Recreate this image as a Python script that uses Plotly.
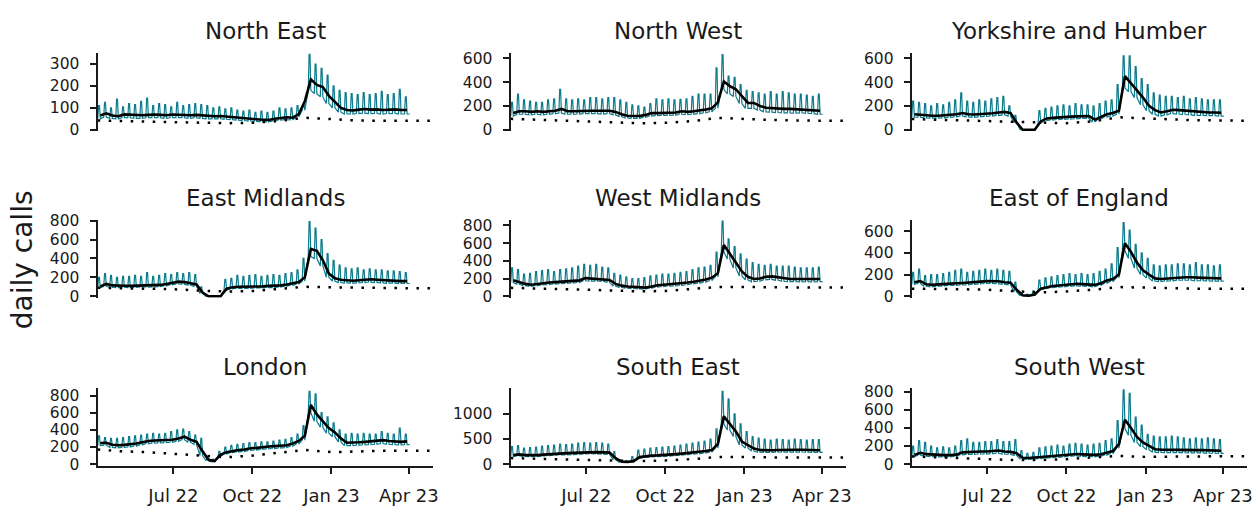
import pandas as pd
import plotly.graph_objects as go

W, H = 1260, 506

regions = ["North East", "North West", "Yorkshire and Humber",
           "East Midlands", "West Midlands", "East of England",
           "London", "South East", "South West"]

week_start = pd.date_range("2022-04-04", periods=52, freq="7D")
baseline_dates = pd.to_datetime([
    "2022-04-04", "2022-05-01", "2022-06-01", "2022-07-01", "2022-08-01",
    "2022-09-01", "2022-10-01", "2022-11-01", "2022-12-01", "2023-01-01",
    "2023-02-01", "2023-03-01", "2023-04-01", "2023-04-28"])

x_tick_vals = ["2022-07-01", "2022-10-01", "2023-01-01", "2023-04-01"]
x_tick_text = ["Jul 22", "Oct 22", "Jan 23", "Apr 23"]

# ---------------- North East ----------------
ne_smooth = [65, 75, 65, 62, 70, 68, 65, 66, 68, 70, 68, 66, 70,
             68, 67, 66, 68, 65, 63, 62, 63, 60, 58, 55, 52, 50,
             48, 46, 45, 50, 55, 57, 55, 72, 130, 230, 205, 195, 155,
             125, 100, 90, 88, 92, 95, 92, 93, 90, 92, 93, 90, 90]
ne_peak = [110, 125, 100, 140, 105, 120, 115, 130, 145, 110, 120, 115, 105,
           125, 110, 115, 120, 115, 110, 100, 105, 95, 100, 90, 85, 90,
           80, 85, 80, 85, 100, 95, 100, 110, 115, 345, 300, 280, 250,
           200, 180, 170, 165, 160, 170, 160, 165, 175, 160, 165, 185, 150]
ne_low = [50, 58, 52, 50, 55, 55, 52, 52, 55, 55, 55, 52, 55,
          55, 55, 52, 55, 52, 50, 50, 50, 48, 46, 44, 42, 40,
          38, 37, 36, 40, 44, 46, 45, 58, 90, 180, 165, 150, 120,
          100, 80, 72, 72, 74, 76, 74, 75, 72, 74, 75, 72, 72]
ne_base = [42, 40, 37, 35, 31, 30, 32, 40, 55, 48, 42, 41, 41, 41]

# ---------------- North West ----------------
nw_smooth = [140, 155, 155, 150, 155, 150, 155, 160, 175, 155, 155, 158, 160,
             160, 160, 158, 160, 150, 130, 118, 115, 115, 125, 140, 140, 142,
             142, 145, 155, 150, 155, 160, 170, 180, 230, 405, 365, 340, 280,
             225, 225, 200, 185, 180, 178, 175, 175, 172, 175, 170, 165, 160]
nw_peak = [230, 300, 250, 240, 230, 230, 250, 260, 340, 260, 250, 260, 250,
           270, 270, 260, 270, 270, 250, 230, 210, 200, 190, 220, 260, 250,
           260, 250, 255, 260, 280, 300, 300, 300, 520, 630, 450, 440, 380,
           330, 320, 310, 300, 320, 300, 320, 310, 300, 300, 290, 280, 300]
nw_low = [115, 130, 130, 125, 130, 125, 130, 135, 140, 130, 130, 132, 135,
          135, 135, 132, 135, 125, 110, 100, 95, 95, 105, 115, 118, 120,
          120, 122, 130, 128, 130, 135, 142, 150, 180, 340, 300, 280, 220,
          180, 180, 165, 150, 148, 145, 142, 142, 140, 142, 138, 135, 130]
nw_base = [92, 85, 80, 72, 62, 55, 58, 72, 100, 90, 82, 78, 75, 75]

# ---------------- Yorkshire and Humber ----------------
yh_smooth = [130, 125, 120, 118, 118, 120, 125, 130, 140, 130, 128, 130, 135,
             138, 145, 150, 140, 60, 0, 0, 0, 70, 95, 100, 105, 108,
             110, 112, 115, 115, 85, 110, 130, 140, 160, 450, 385, 330, 270,
             200, 165, 145, 155, 168, 165, 160, 155, 150, 150, 145, 145, 142]
yh_peak = [240, 230, 220, 200, 220, 210, 230, 250, 310, 240, 230, 250, 240,
           260, 270, 280, 200, 120, 0, 0, 0, 160, 180, 190, 200, 210,
           200, 220, 210, 210, 200, 220, 240, 250, 380, 620, 620, 530, 430,
           380, 310, 290, 280, 280, 270, 280, 260, 270, 260, 250, 250, 250]
yh_low = [105, 105, 100, 98, 98, 100, 105, 108, 115, 108, 105, 108, 112,
          115, 120, 125, 115, 60, 0, 0, 0, 55, 78, 82, 86, 88,
          90, 92, 95, 95, 65, 90, 108, 115, 130, 350, 320, 270, 210,
          160, 130, 115, 125, 135, 132, 128, 125, 120, 120, 118, 118, 115]
yh_base = [90, 85, 80, 70, 65, 60, 55, 70, 105, 95, 85, 80, 78, 75]

# ---------------- East Midlands ----------------
em_smooth = [105, 130, 115, 110, 112, 110, 112, 115, 115, 118, 120, 130, 145,
             155, 150, 140, 125, 40, 0, 0, 0, 80, 95, 100, 100, 100,
             105, 105, 110, 110, 115, 125, 135, 150, 200, 500, 480, 380, 240,
             190, 175, 170, 165, 170, 175, 180, 175, 170, 165, 165, 160, 160]
em_peak = [200, 240, 220, 200, 210, 210, 220, 210, 250, 210, 220, 240, 230,
           250, 240, 250, 230, 100, 0, 0, 0, 180, 190, 220, 210, 220,
           230, 210, 220, 230, 220, 240, 250, 280, 400, 790, 720, 600, 450,
           380, 330, 300, 290, 300, 280, 290, 280, 280, 270, 270, 260, 250]
em_low = [88, 105, 95, 92, 95, 92, 95, 98, 98, 100, 102, 110, 122,
          130, 128, 118, 105, 30, 0, 0, 0, 65, 80, 84, 84, 84,
          88, 88, 92, 92, 98, 105, 115, 128, 160, 420, 400, 320, 200,
          160, 145, 140, 138, 142, 145, 150, 146, 142, 138, 138, 135, 135]
em_base = [90, 85, 80, 75, 60, 50, 55, 75, 100, 95, 90, 85, 85, 85]

# ---------------- West Midlands ----------------
wm_smooth = [180, 160, 140, 130, 140, 150, 155, 160, 165, 170, 175, 180, 205,
             200, 200, 195, 185, 140, 120, 110, 105, 100, 98, 110, 125, 130,
             135, 140, 145, 155, 165, 175, 190, 210, 260, 580, 480, 380, 280,
             220, 195, 200, 220, 225, 215, 200, 195, 195, 193, 195, 193, 195]
wm_peak = [320, 300, 250, 260, 280, 290, 300, 280, 300, 310, 320, 340, 360,
           350, 360, 330, 320, 260, 240, 220, 200, 200, 210, 230, 240, 250,
           250, 260, 270, 280, 300, 320, 330, 350, 500, 850, 650, 560, 480,
           420, 380, 360, 350, 360, 340, 340, 340, 330, 320, 320, 320, 330]
wm_low = [155, 138, 120, 112, 120, 128, 132, 138, 142, 146, 150, 155, 175,
          172, 172, 168, 158, 115, 100, 92, 88, 84, 82, 92, 105, 110,
          115, 118, 122, 130, 140, 148, 160, 178, 220, 500, 420, 320, 230,
          185, 165, 170, 185, 190, 182, 170, 165, 165, 163, 165, 163, 165]
wm_base = [95, 90, 85, 75, 65, 55, 60, 80, 105, 105, 100, 100, 100, 100]

# ---------------- East of England ----------------
ee_smooth = [130, 140, 110, 105, 110, 115, 118, 120, 123, 125, 130, 135, 140,
             140, 138, 130, 125, 60, 10, 5, 15, 70, 85, 95, 100, 105,
             110, 115, 112, 110, 105, 120, 145, 160, 200, 490, 410, 310, 240,
             200, 165, 160, 165, 170, 175, 175, 175, 170, 170, 168, 165, 165]
ee_peak = [220, 250, 190, 200, 200, 210, 220, 240, 250, 220, 230, 240, 250,
           240, 250, 240, 230, 130, 30, 20, 50, 150, 170, 180, 190, 200,
           210, 200, 210, 200, 210, 230, 250, 300, 450, 680, 610, 480, 400,
           350, 290, 280, 290, 290, 300, 300, 290, 310, 290, 290, 280, 290]
ee_low = [110, 118, 92, 88, 92, 96, 100, 100, 104, 105, 110, 114, 118,
          118, 116, 110, 105, 40, 5, 3, 10, 58, 72, 80, 84, 88,
          92, 96, 94, 92, 88, 100, 122, 135, 170, 420, 350, 260, 200,
          168, 140, 135, 140, 143, 148, 148, 148, 143, 143, 142, 140, 140]
ee_base = [70, 70, 65, 60, 45, 35, 45, 60, 85, 80, 72, 70, 70, 70]

# ---------------- London ----------------
ld_smooth = [245, 250, 225, 220, 225, 230, 240, 255, 270, 275, 278, 280, 285,
             300, 320, 285, 260, 150, 50, 35, 110, 140, 155, 165, 170, 185,
             190, 200, 205, 210, 215, 220, 240, 270, 330, 690, 580, 500, 420,
             370, 300, 250, 250, 255, 260, 265, 270, 280, 270, 265, 260, 265]
ld_peak = [330, 310, 300, 300, 310, 320, 330, 340, 350, 360, 350, 360, 380,
           400, 410, 380, 340, 300, 70, 60, 150, 200, 220, 230, 240, 250,
           250, 260, 260, 270, 280, 290, 310, 350, 450, 850, 820, 600, 550,
           480, 400, 350, 360, 350, 360, 350, 350, 380, 360, 350, 420, 350]
ld_low = [215, 220, 195, 190, 195, 200, 210, 225, 240, 245, 248, 250, 255,
          265, 285, 255, 230, 100, 40, 25, 90, 120, 135, 142, 148, 160,
          165, 172, 178, 182, 188, 192, 210, 235, 280, 600, 500, 430, 360,
          320, 260, 215, 215, 220, 225, 228, 232, 240, 232, 228, 225, 228]
ld_base = [170, 150, 140, 120, 100, 80, 100, 130, 165, 140, 150, 155, 155, 155]

# ---------------- South East ----------------
se_smooth = [180, 195, 180, 175, 180, 190, 200, 210, 220, 220, 225, 230, 240,
             245, 240, 235, 230, 120, 50, 45, 60, 140, 160, 170, 175, 180,
             190, 200, 210, 220, 235, 245, 260, 280, 400, 950, 800, 650, 450,
             380, 310, 280, 275, 275, 280, 285, 285, 285, 285, 280, 275, 275]
se_peak = [350, 370, 320, 330, 340, 360, 370, 380, 400, 390, 400, 420, 430,
           420, 430, 420, 400, 250, 80, 70, 150, 280, 300, 320, 330, 340,
           350, 360, 380, 400, 420, 440, 460, 500, 700, 1450, 1300, 1000, 800,
           650, 550, 520, 500, 480, 500, 490, 480, 500, 490, 480, 490, 490]
se_low = [150, 165, 152, 148, 152, 160, 170, 178, 186, 186, 190, 195, 203,
          208, 203, 198, 195, 90, 40, 35, 45, 115, 135, 143, 148, 152,
          160, 170, 178, 186, 200, 208, 220, 238, 320, 800, 680, 550, 380,
          320, 262, 237, 233, 233, 237, 241, 241, 241, 241, 237, 233, 233]
se_base = [120, 110, 100, 90, 70, 60, 75, 100, 145, 135, 130, 130, 130, 130]

# ---------------- South West ----------------
sw_smooth = [100, 125, 110, 105, 100, 100, 100, 105, 130, 135, 135, 140, 140,
             145, 150, 140, 135, 120, 70, 68, 70, 78, 85, 90, 95, 100,
             110, 112, 108, 105, 102, 110, 125, 145, 220, 490, 400, 300, 240,
             200, 165, 160, 158, 158, 158, 158, 155, 155, 155, 150, 150, 148]
sw_peak = [200, 260, 240, 200, 180, 190, 180, 200, 260, 280, 240, 240, 250,
           250, 270, 250, 250, 270, 150, 120, 130, 180, 190, 200, 210, 200,
           220, 230, 220, 210, 220, 230, 260, 280, 480, 820, 780, 520, 430,
           330, 310, 300, 300, 310, 300, 290, 280, 290, 280, 290, 280, 270]
sw_low = [80, 100, 88, 84, 80, 80, 80, 84, 104, 108, 108, 112, 112,
          116, 120, 112, 108, 96, 56, 54, 56, 62, 68, 72, 76, 80,
          88, 90, 86, 84, 82, 88, 100, 116, 176, 392, 320, 240, 192,
          160, 132, 128, 126, 126, 126, 126, 124, 124, 124, 120, 120, 118]
sw_base = [85, 75, 70, 60, 45, 45, 55, 75, 90, 80, 85, 88, 88, 88]

series = {
    "North East": (ne_smooth, ne_peak, ne_low, ne_base),
    "North West": (nw_smooth, nw_peak, nw_low, nw_base),
    "Yorkshire and Humber": (yh_smooth, yh_peak, yh_low, yh_base),
    "East Midlands": (em_smooth, em_peak, em_low, em_base),
    "West Midlands": (wm_smooth, wm_peak, wm_low, wm_base),
    "East of England": (ee_smooth, ee_peak, ee_low, ee_base),
    "London": (ld_smooth, ld_peak, ld_low, ld_base),
    "South East": (se_smooth, se_peak, se_low, se_base),
    "South West": (sw_smooth, sw_peak, sw_low, sw_base),
}

y_ticks = {
    "North East": [0, 100, 200, 300],
    "North West": [0, 200, 400, 600],
    "Yorkshire and Humber": [0, 200, 400, 600],
    "East Midlands": [0, 200, 400, 600, 800],
    "West Midlands": [0, 200, 400, 600, 800],
    "East of England": [0, 200, 400, 600],
    "London": [0, 200, 400, 600, 800],
    "South East": [0, 500, 1000],
    "South West": [0, 200, 400, 600, 800],
}

# ---------------- layout configuration ----------------
y_ranges = {
    "North East": [-6.6, 348.5],
    "North West": [-12.2, 640.7],
    "Yorkshire and Humber": [-12.2, 640.7],
    "East Midlands": [-15.3, 810],
    "West Midlands": [-16.4, 865.7],
    "East of England": [-13.4, 706.8],
    "London": [-16.9, 884.5],
    "South East": [-28.8, 1509.6],
    "South West": [-16.0, 837],
}
x_range = ["2022-04-03 19:00", "2023-04-29 02:00"]
col_px = [(98, 435), (513, 850), (916, 1253)]
row_px = [(47, 127.5), (219, 299.8), (393.5, 473.5)]
title_y_px = [24, 197, 371]

TEAL = "#0b7b8b"
INK = "#1a1a1a"
FONT = "DejaVu Sans, Verdana, sans-serif"

fig = go.Figure()
layout = {}
annotations = []

day = pd.Timedelta(days=1)

for i, reg in enumerate(regions):
    r, c = divmod(i, 3)
    k = "" if i == 0 else str(i + 1)
    smooth, peak, low, base = series[reg]

    # weekday level, then a two-day weekend high, then back to weekday level
    tx, ty = [], []
    for d, lo, pk in zip(week_start, low, peak):
        tx += [d, d + day, d + 2 * day, d + 3 * day]
        ty += [lo, pk, pk, lo]
    tx.append(week_start[-1] + 6 * day)
    ty.append(low[-1])

    fig.add_trace(go.Scatter(x=tx, y=ty, mode="lines",
                             line=dict(color=TEAL, width=1.2),
                             xaxis="x" + k, yaxis="y" + k,
                             showlegend=False, hoverinfo="skip"))
    fig.add_trace(go.Scatter(x=baseline_dates, y=base, mode="lines",
                             line=dict(color="black", width=2.5,
                                       dash="2.5px,8.5px"),
                             xaxis="x" + k, yaxis="y" + k,
                             showlegend=False, hoverinfo="skip"))
    fig.add_trace(go.Scatter(x=week_start + 3 * day, y=smooth, mode="lines",
                             line=dict(color="black", width=2.6),
                             xaxis="x" + k, yaxis="y" + k,
                             showlegend=False, hoverinfo="skip"))

    x0, x1 = col_px[c]
    t0, t1 = row_px[r]
    bottom = r == 2
    layout["xaxis" + k] = dict(
        domain=[x0 / W, x1 / W], range=x_range, type="date",
        anchor="y" + k, showgrid=False, zeroline=False,
        showline=bottom, linecolor=INK, linewidth=2,
        ticks="outside" if bottom else "", ticklen=6, tickwidth=2,
        tickcolor=INK, showticklabels=bottom,
        tickmode="array", tickvals=x_tick_vals, ticktext=x_tick_text,
        tickfont=dict(family=FONT, size=18, color=INK),
        ticklabelstandoff=7,
    )
    layout["yaxis" + k] = dict(
        domain=[1 - t1 / H, 1 - t0 / H], range=y_ranges[reg],
        anchor="x" + k, showgrid=False, zeroline=False,
        showline=True, linecolor=INK, linewidth=2,
        ticks="outside", ticklen=6, tickwidth=2, tickcolor=INK,
        tickmode="array", tickvals=y_ticks[reg],
        tickfont=dict(family=FONT, size=15.5, color=INK),
        ticklabelstandoff=7,
    )
    annotations.append(dict(
        text=reg, x=(x0 + x1) / 2 / W, y=1 - title_y_px[r] / H,
        xref="paper", yref="paper", showarrow=False,
        xanchor="center", yanchor="middle",
        font=dict(family=FONT, size=23, color=INK)))

annotations.append(dict(
    text="daily calls", x=22 / W, y=1 - 260 / H, xref="paper", yref="paper",
    showarrow=False, textangle=-90, xanchor="center", yanchor="middle",
    font=dict(family=FONT, size=28, color=INK)))

fig.update_layout(
    width=W, height=H, autosize=False,
    margin=dict(l=0, r=0, t=0, b=0, pad=0),
    paper_bgcolor="white", plot_bgcolor="white",
    annotations=annotations,
    **layout,
)

fig.write_html("out.html", config={"displayModeBar": False},
               post_script="document.body.style.margin='0';")
